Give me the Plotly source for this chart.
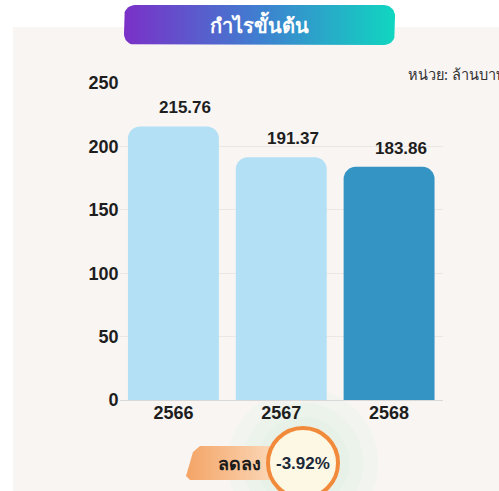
import numpy as np
import plotly.graph_objects as go

# ---------------- data ----------------
years = ["2566", "2567", "2568"]
values = [215.76, 191.37, 183.86]
bar_colors = ["#b3e0f5", "#b3e0f5", "#3494c4"]
y_ticks = [0, 50, 100, 150, 200, 250]
title_text = "กำไรขั้นต้น"
unit_text = "หน่วย: ล้านบาท"
change_label = "ลดลง"
change_value = "-3.92%"

W, H = 499, 491
FONT = "Liberation Sans, Arial, sans-serif"
DARK = "#1e1e1e"


def px(x):
    return x / W


def py(y):
    return 1 - y / H


def rounded_rect(x0, y0, x1, y1, r, n=10):
    xs, ys = [], []
    corners = [(x1 - r, y0 + r, -90, 0), (x1 - r, y1 - r, 0, 90),
               (x0 + r, y1 - r, 90, 180), (x0 + r, y0 + r, 180, 270)]
    for cx, cy, a0, a1 in corners:
        for a in np.linspace(np.radians(a0), np.radians(a1), n):
            xs.append(cx + r * np.cos(a))
            ys.append(cy + r * np.sin(a))
    xs.append(xs[0]); ys.append(ys[0])
    return xs, ys


fig = go.Figure()

# main bars
fig.add_trace(go.Bar(
    x=years, y=values, marker=dict(color=bar_colors, cornerradius=12, line=dict(width=0)),
    hoverinfo="skip", xaxis="x", yaxis="y", showlegend=False))

# value labels (category index positions on the category axis)
annotations = []
for i, v in enumerate(values):
    annotations.append(dict(x=i, y=v, xref="x", yref="y", text=f"<b>{v:.2f}</b>",
                            showarrow=False, yanchor="bottom", yshift=7, xshift=12,
                            font=dict(family=FONT, size=17, color=DARK)))

# decorative overlay (pixel coordinates)
tx, ty = rounded_rect(124, 5, 395, 45, 11)
fig.add_trace(go.Scatter(
    x=tx, y=ty, fill="toself", mode="lines", line=dict(width=0),
    fillgradient=dict(type="horizontal", colorscale=[[0, "#7b30c8"], [0.5, "#3f7fd0"], [1, "#10d6c0"]]),
    hoverinfo="skip", xaxis="x2", yaxis="y2", showlegend=False))

# badge tag
bx = [200, 300, 300, 190, 186, 193, 200]
by = [446, 446, 480, 480, 476, 452, 446]
fig.add_trace(go.Scatter(
    x=bx, y=by, fill="toself", mode="lines", line=dict(width=0),
    fillgradient=dict(type="horizontal", colorscale=[[0, "#f4a466"], [1, "#fde7d0"]]),
    hoverinfo="skip", xaxis="x2", yaxis="y2", showlegend=False))

shapes = [
    dict(type="rect", xref="paper", yref="paper", x0=px(13), x1=1.0, y0=0, y1=py(27),
         fillcolor="#f8f5f3", line=dict(width=0), layer="below"),
]
# soft green glow
for r, op in [(75, 0.2), (60, 0.25), (46, 0.3)]:
    shapes.append(dict(type="circle", xref="paper", yref="paper",
                       x0=px(303 - r), x1=px(303 + r), y0=py(463 + r), y1=py(463 - r),
                       fillcolor=f"rgba(220,240,224,{op})", line=dict(width=0), layer="below"))
# circle
shapes.append(dict(type="circle", xref="x2", yref="y2", x0=268, x1=338, y0=428, y1=498,
                   fillcolor="#fdf8e4", line=dict(color="#f28a3c", width=4), layer="above"))

annotations += [
    dict(x=259, y=25, xref="x2", yref="y2", text=f"<b>{title_text}</b>", showarrow=False,
         font=dict(family="Noto Sans, sans-serif", size=20, color="white")),
    dict(x=406, y=74, xref="x2", yref="y2", text=unit_text, showarrow=False, xanchor="left",
         font=dict(family="Noto Sans, sans-serif", size=14.5, color="#333333")),
    dict(x=239, y=463, xref="x2", yref="y2", text=f"<b>{change_label}</b>", showarrow=False,
         font=dict(family="Noto Sans, sans-serif", size=18, color="#1a1a1a")),
    dict(x=303, y=463, xref="x2", yref="y2", text=f"<b>{change_value}</b>", showarrow=False,
         font=dict(family=FONT, size=17, color="#1b2838")),
]

fig.update_layout(
    width=W, height=H, margin=dict(l=0, r=0, t=0, b=0, pad=0, autoexpand=False),
    paper_bgcolor="white", plot_bgcolor="rgba(0,0,0,0)",
    bargap=0.157, showlegend=False,
    shapes=shapes, annotations=annotations,
    xaxis=dict(domain=[px(119.5), px(443)], type="category", range=[-0.5, 2.5],
               showgrid=False, showline=False, ticks="", zeroline=False, automargin=False,
               tickfont=dict(family=FONT, size=18, color=DARK), anchor="y",
               tickprefix="<b>", ticksuffix="</b>", fixedrange=True),
    yaxis=dict(domain=[py(400), py(83)], range=[0, 250], tickvals=y_ticks,
               ticktext=[f"<b>{t}</b>" for t in y_ticks], automargin=False,
               showgrid=True, gridcolor="#ebe7e4", gridwidth=1,
               zeroline=True, zerolinecolor="#d8d8d8", zerolinewidth=1,
               showline=False, ticks="", anchor="x",
               tickfont=dict(family=FONT, size=18, color=DARK), fixedrange=True),
    xaxis2=dict(domain=[0, 1], range=[0, W], visible=False, anchor="y2", fixedrange=True,
                automargin=False),
    yaxis2=dict(domain=[0, 1], range=[H, 0], visible=False, anchor="x2", fixedrange=True,
                automargin=False),
)

fig.write_html("out.html", config={"displayModeBar": False},
               post_script="document.body.style.margin='0';document.body.style.overflow='hidden';")
